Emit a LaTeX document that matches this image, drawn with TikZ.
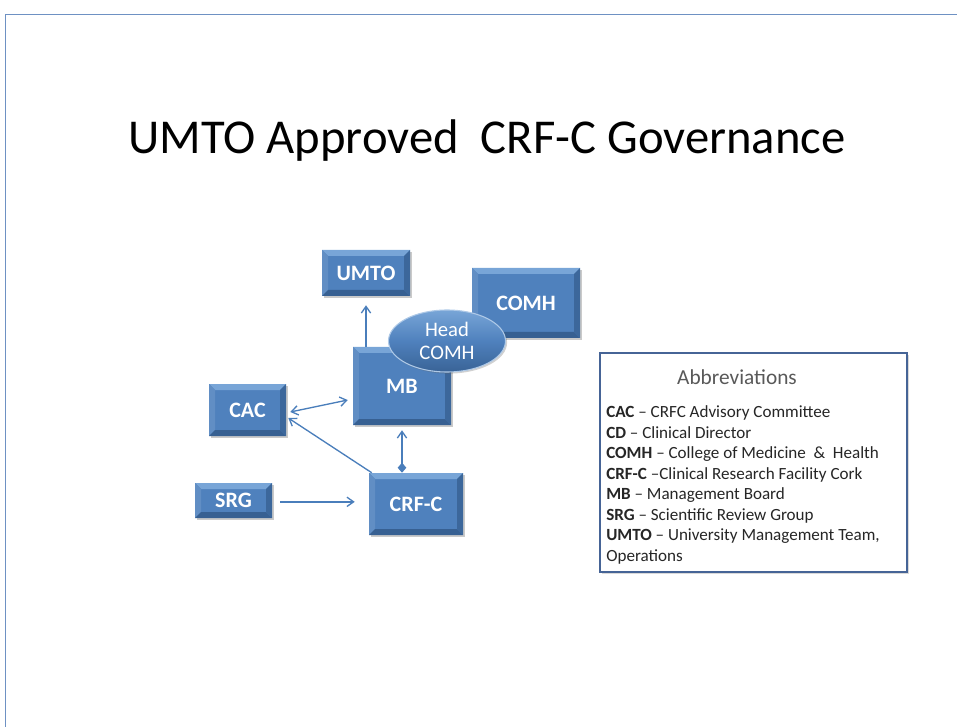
\documentclass[tikz,border=0pt]{standalone}
\usepackage{fontspec}
\setmainfont{Carlito}
\usetikzlibrary{arrows.meta,shapes.geometric,shadows}
\definecolor{boxblue}{RGB}{79,129,189}
\definecolor{boxlight}{RGB}{120,165,215}
\definecolor{boxdark}{RGB}{55,96,146}
\definecolor{linkblue}{RGB}{74,126,187}
\definecolor{framecol}{RGB}{110,145,195}
\definecolor{abbrborder}{RGB}{70,100,150}
\definecolor{abbrgray}{RGB}{89,89,89}
\tikzset{
  bevelbox/.style={rectangle, fill=boxblue, draw=none, text=white,
    font=\fontsize{16.5}{18}\selectfont\bfseries, inner sep=0pt,
    drop shadow={shadow xshift=1.5pt,shadow yshift=-1.5pt,opacity=0.35,fill=black!60},
    path picture={
      \fill[boxlight] (path picture bounding box.north west) -- (path picture bounding box.north east)
        -- ([xshift=-4.5pt,yshift=-4.5pt]path picture bounding box.north east)
        -- ([xshift=4.5pt,yshift=-4.5pt]path picture bounding box.north west) -- cycle;
      \fill[boxblue!90!white] (path picture bounding box.north west) -- (path picture bounding box.south west)
        -- ([xshift=4.5pt,yshift=4.5pt]path picture bounding box.south west)
        -- ([xshift=4.5pt,yshift=-4.5pt]path picture bounding box.north west) -- cycle;
      \fill[boxdark] (path picture bounding box.south west) -- (path picture bounding box.south east)
        -- ([xshift=-4.5pt,yshift=4.5pt]path picture bounding box.south east)
        -- ([xshift=4.5pt,yshift=4.5pt]path picture bounding box.south west) -- cycle;
      \fill[boxdark!80!boxblue] (path picture bounding box.north east) -- (path picture bounding box.south east)
        -- ([xshift=-4.5pt,yshift=4.5pt]path picture bounding box.south east)
        -- ([xshift=-4.5pt,yshift=-4.5pt]path picture bounding box.north east) -- cycle;
    }},
  headell/.style={ellipse, draw=boxlight!60!white, line width=0.8pt, text=white, align=center,
    inner sep=0pt, font=\fontsize{15.5}{17.5}\selectfont,
    top color=boxlight, bottom color=boxdark!90!boxblue, middle color=boxblue,
    drop shadow={shadow xshift=1.2pt,shadow yshift=-1.2pt,opacity=0.3,fill=black!60}},
  link/.style={draw=linkblue, line width=1pt},
  tip/.style={-{Straight Barb[length=5pt,width=7pt,line width=1pt]}},
}
\begin{document}
\begin{tikzpicture}[x=0.75pt,y=-0.75pt]
\useasboundingbox (0,0) rectangle (957,727);
% frame
\draw[framecol, line width=1.1pt] (5.5,740) -- (5.5,14.5) -- (970,14.5);
% title
\node[font=\fontsize{36.5}{40}\selectfont, text=black] (title) at (487,141) {UMTO Approved\ \ CRF-C Governance};
% boxes
\node[bevelbox, minimum width=66pt, minimum height=34.5pt] (UMTO) at (366,273) {UMTO};
\node[bevelbox, minimum width=81pt, minimum height=52.5pt] (COMH) at (526,303) {COMH};
\node[bevelbox, minimum width=73.5pt, minimum height=58.5pt] (MB) at (402,386) {MB};
\node[bevelbox, minimum width=57.75pt, minimum height=39pt] (CAC) at (247.5,410) {CAC};
\node[bevelbox, minimum width=57.75pt, minimum height=26.25pt] (SRG) at (233.5,500.5) {SRG};
\node[bevelbox, minimum width=70.5pt, minimum height=46.5pt] (CRF) at (416,504) {CRF-C};
\node[headell, minimum width=87.75pt, minimum height=46.5pt] (HEAD) at (447,341) {Head\\COMH};
% connectors
\draw[link, tip] (MB.north -| UMTO) -- ([yshift=-6.75pt]UMTO.south);
\draw[link, {Straight Barb[length=5pt,width=7pt,line width=1pt]}-{Straight Barb[length=5pt,width=7pt,line width=1pt]}]
  ([xshift=3pt,yshift=-1.5pt]CAC.east) -- ([xshift=-3.75pt,yshift=-10.5pt]MB.west);
\draw[link, tip] ([xshift=2.25pt]CRF.north west) -- ([xshift=1.5pt,yshift=-6pt]CAC.east);
\draw[link, {Diamond[length=7.5pt,width=6.5pt]}-{Straight Barb[length=5pt,width=7pt,line width=1pt]}]
  (CRF.north -| MB) -- ([yshift=-3.75pt]MB.south);
\draw[link, tip] ([xshift=6pt,yshift=-1pt]SRG.east) -- ([xshift=-10.5pt,yshift=-1pt]SRG.east -| CRF.west);
% abbreviations
\node[draw=abbrborder, line width=1pt, fill=white, minimum width=230.25pt, minimum height=164.25pt,
  drop shadow={shadow xshift=1.2pt,shadow yshift=-1.2pt,opacity=0.3,fill=black!50}] (ABBR) at (753.5,462.5) {};
\node[text=abbrgray, font=\fontsize{16}{18}\selectfont] (ABT) at (737,377) {Abbreviations};
\node[anchor=north west, align=left, inner sep=0pt, font=\fontsize{12.8}{15.4}\selectfont, text=black!85]
  (ABL) at (606,405.5) {%
\textbf{CAC} – CRFC Advisory Committee\\
\textbf{CD} – Clinical Director\\
\textbf{COMH} – College of Medicine\ \ \&\ \ Health\\
\textbf{CRF-C} –Clinical Research Facility Cork\\
\textbf{MB} – Management Board\\
\textbf{SRG} – Scientific Review Group\\
\textbf{UMTO} – University Management Team,\\
Operations};
\end{tikzpicture}
\end{document}
